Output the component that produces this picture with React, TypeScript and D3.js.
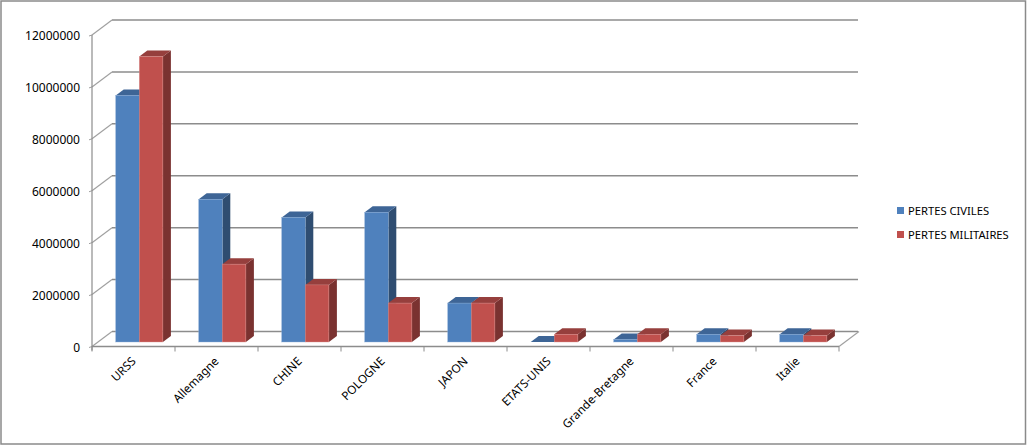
import React from "react";
import * as d3 from "d3";

const categories = ["URSS", "Allemagne", "CHINE", "POLOGNE", "JAPON", "ETATS-UNIS", "Grande-Bretagne", "France", "Italie"];
const civiles = [9500000, 5500000, 4800000, 5000000, 1500000, 0, 100000, 300000, 300000];
const militaires = [11000000, 3000000, 2200000, 1500000, 1500000, 300000, 300000, 250000, 250000];
const ticks = [0, 2000000, 4000000, 6000000, 8000000, 10000000, 12000000];
const seriesNames = ["PERTES CIVILES", "PERTES MILITAIRES"];

const FONT = "'Noto Sans', Tahoma, sans-serif";
const GRID = "#8c8c8c";
const blue = { front: "#4F81BD", top: "#3E6596", side: "#2F4D71", edge: "#8FAFD6" };
const red = { front: "#C0504D", top: "#963F3D", side: "#7A3230", edge: "#D99694" };

const W = 1027, H = 446;
const x0 = 92, x1 = 839, yBase = 346.5, yTop = 35;
const wallDx = 20, wallDy = -15;
const barDx = 8, barDy = -6, barBase = 342, barW = 23.6, barInset = 23.7;

const xScale = d3.scaleBand<string>().domain(categories).range([x0, x1]).padding(0);
const yAxis = d3.scaleLinear().domain([0, 12000000]).range([yBase, yTop]);
const yBar = (v: number) => barBase - (yBase - yAxis(v));

function Bar({ x, v, c }: { x: number; v: number; c: typeof blue }) {
  const t = yBar(v);
  const r = x + barW;
  return (
    <g>
      <polygon points={`${r},${t} ${r + barDx},${t + barDy} ${r + barDx},${barBase + barDy} ${r},${barBase}`} fill={c.side} />
      <polygon points={`${x},${t} ${x + barDx},${t + barDy} ${r + barDx},${t + barDy} ${r},${t}`} fill={c.top} />
      {v > 0 && <rect x={x} y={t} width={barW} height={barBase - t} fill={c.front} stroke={c.edge} strokeWidth={0.4} />}
    </g>
  );
}

export default function App() {
  return (
    <svg width={W} height={H} style={{ position: "absolute", left: 0, top: 0, background: "#fff" }} fontFamily={FONT}>
      <rect x={1} y={1} width={1024.5} height={443} fill="#fff" stroke="#8a8a8a" strokeWidth={1.5} />
      {ticks.map((t) => {
        const y = yAxis(t);
        return (
          <g key={t}>
            <line x1={x0 + wallDx} x2={x1 + wallDx - 1} y1={y + wallDy} y2={y + wallDy} stroke={GRID} strokeWidth={1.5} />
            <line x1={x0} x2={x0 + wallDx} y1={y} y2={y + wallDy} stroke="#a0a0a0" strokeWidth={1.2} />
            <line x1={x0 - 3} x2={x0} y1={y + 1} y2={y} stroke="#a0a0a0" strokeWidth={1} />
            <text x={80} y={y + 5} textAnchor="end" fontSize={12} fill="#000">{t}</text>
          </g>
        );
      })}
      <line x1={x0} x2={x0} y1={yTop} y2={yBase + 4} stroke={GRID} strokeWidth={1.2} />
      <line x1={x0} x2={x1} y1={yBase} y2={yBase} stroke={GRID} strokeWidth={1.5} />
      <line x1={x1} x2={x1 + wallDx} y1={yBase} y2={yBase + wallDy} stroke="#a0a0a0" strokeWidth={1.2} />
      {d3.range(categories.length + 1).map((i) => {
        const x = x0 + i * xScale.step();
        return <line key={i} x1={x} x2={x} y1={yBase} y2={yBase + 5} stroke={GRID} strokeWidth={1} />;
      })}
      {categories.map((c, i) => {
        const x = (xScale(c) as number) + barInset;
        return (
          <g key={c}>
            <Bar x={x} v={civiles[i]} c={blue} />
            <Bar x={x + barW} v={militaires[i]} c={red} />
          </g>
        );
      })}
      {categories.map((c) => {
        const cx = (xScale(c) as number) + xScale.bandwidth() / 2 + 3;
        return (
          <text key={c} transform={`translate(${cx},362) rotate(-45)`} textAnchor="end" fontSize={11.7} fill="#000">{c}</text>
        );
      })}
      {seriesNames.map((s, i) => (
        <g key={s}>
          <rect x={897} y={207 + i * 24} width={7} height={7} fill={i === 0 ? blue.front : red.front} />
          <text x={908} y={215 + i * 23.7} fontSize={11.2} fill="#000">{s}</text>
        </g>
      ))}
    </svg>
  );
}
